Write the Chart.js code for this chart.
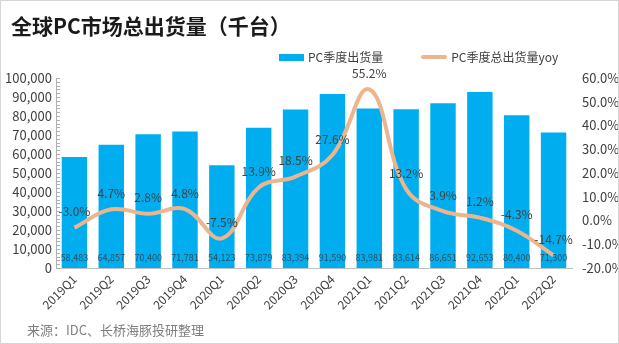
<!DOCTYPE html>
<html>
<head>
<meta charset="utf-8">
<script src="https://cdn.jsdelivr.net/npm/chart.js@4/dist/chart.umd.min.js"></script>
<style>
  html, body { margin: 0; padding: 0; background: #fff; }
  #wrap { position: relative; width: 619px; height: 344px; overflow: hidden; font-family: "Noto Sans CJK SC", "Noto Sans", sans-serif; }
  #c { position: absolute; left: 0; top: 0; }
  #frame { position: absolute; left: 0; top: 0; width: 619px; height: 344px; box-sizing: border-box; border: 1px solid #d6d6d6; pointer-events: none; }
  #title { position: absolute; left: 11px; top: 10px; font-size: 21px; font-weight: bold; color: #1a1a1a; white-space: nowrap; line-height: 30px; }
  #legend { position: absolute; left: 279px; top: 48px; font-size: 12px; color: #404040; white-space: nowrap; line-height: 18px; display: flex; align-items: center; }
  .sw-bar { display: inline-block; width: 25px; height: 7px; background: #00AEEF; margin-right: 4px; }
  .sw-line { display: inline-block; width: 26px; height: 4px; background: #EDB58E; margin-right: 4px; margin-left: 38px; border-radius: 2px; }
  #source { position: absolute; left: 27px; top: 320px; font-size: 13px; color: #7f7f7f; white-space: nowrap; line-height: 20px; }
</style>
</head>
<body>
<div id="wrap">
  <canvas id="c" width="619" height="344"></canvas>
  <div id="title">全球PC市场总出货量（千台）</div>
  <div id="legend"><span class="sw-bar"></span><span>PC季度出货量</span><span class="sw-line"></span><span>PC季度总出货量yoy</span></div>
  <div id="source">来源：IDC、长桥海豚投研整理</div>
  <div id="frame"></div>
</div>
<script>
const categories = ["2019Q1","2019Q2","2019Q3","2019Q4","2020Q1","2020Q2","2020Q3","2020Q4","2021Q1","2021Q2","2021Q3","2021Q4","2022Q1","2022Q2"];
const shipments = [58483, 64857, 70400, 71781, 54123, 73879, 83394, 91590, 83981, 83614, 86651, 92653, 80400, 71300];
const yoyPct = [-3.0, 4.7, 2.8, 4.8, -7.5, 13.9, 18.5, 27.6, 55.2, 13.2, 3.9, 1.2, -4.3, -14.7];

const FONT = '"Noto Sans CJK SC", "Noto Sans", sans-serif';

const minorTicks = {
  id: 'minorTicks',
  afterDraw(chart) {
    const s = chart.scales.y;
    const ctx = chart.ctx;
    ctx.save();
    ctx.strokeStyle = '#b0b0b0';
    ctx.lineWidth = 1;
    for (let v = s.min; v <= s.max; v += 2000) {
      const y = Math.round(s.getPixelForValue(v)) + 0.5;
      ctx.beginPath();
      ctx.moveTo(s.right, y);
      ctx.lineTo(s.right + 4, y);
      ctx.stroke();
    }
    ctx.restore();
  }
};

const dataLabels = {
  id: 'dataLabels',
  afterDatasetsDraw(chart) {
    const ctx = chart.ctx;
    ctx.save();
    ctx.textAlign = 'center';
    ctx.textBaseline = 'middle';
    // bar labels
    const barMeta = chart.getDatasetMeta(1);
    const y0 = chart.scales.y.getPixelForValue(0);
    ctx.font = '9px ' + FONT;
    ctx.fillStyle = 'rgba(50,60,70,0.85)';
    barMeta.data.forEach((el, i) => {
      ctx.fillText(shipments[i].toLocaleString('en-US'), el.x, y0 - 10);
    });
    // line labels
    const lineMeta = chart.getDatasetMeta(0);
    ctx.font = '12px ' + FONT;
    ctx.fillStyle = '#404040';
    lineMeta.data.forEach((el, i) => {
      ctx.fillText(yoyPct[i].toFixed(1) + '%', el.x, el.y - 16);
    });
    ctx.restore();
  }
};

new Chart(document.getElementById('c'), {
  data: {
    labels: categories,
    datasets: [
      {
        type: 'line',
        label: 'PC季度总出货量yoy',
        data: yoyPct,
        yAxisID: 'y1',
        borderColor: '#EDB58E',
        borderWidth: 4,
        pointRadius: 0,
        tension: 0.4,
        fill: false,
        order: 0
      },
      {
        type: 'bar',
        label: 'PC季度出货量',
        data: shipments,
        yAxisID: 'y',
        backgroundColor: '#00AEEF',
        barPercentage: 0.69,
        categoryPercentage: 1.0,
        order: 1
      }
    ]
  },
  options: {
    responsive: false,
    animation: false,
    layout: { padding: { top: 78, left: 0, right: 0, bottom: 0 } },
    plugins: {
      legend: { display: false },
      tooltip: { enabled: false },
      title: { display: false }
    },
    scales: {
      x: {
        grid: { display: false, drawTicks: false },
        border: { display: true, color: '#bfbfbf', width: 1 },
        ticks: {
          minRotation: 45, maxRotation: 45, autoSkip: false,
          font: { size: 12, family: FONT }, color: '#404040', padding: 4
        },
        afterFit(s) { s.height = 76; }
      },
      y: {
        position: 'left',
        min: 0, max: 100000,
        grid: { display: false, drawTicks: false },
        border: { display: true, color: '#b0b0b0', width: 1 },
        ticks: {
          stepSize: 10000,
          font: { size: 13, family: FONT }, color: '#404040', padding: 4,
          callback: v => v.toLocaleString('en-US')
        },
        afterFit(s) { s.width = 56; }
      },
      y1: {
        position: 'right',
        min: -20, max: 60,
        grid: { display: false, drawTicks: false },
        border: { display: false },
        ticks: {
          stepSize: 10,
          font: { size: 13, family: FONT }, color: '#404040', padding: 10,
          callback: v => v.toFixed(1) + '%'
        },
        afterFit(s) { s.width = 47; }
      }
    }
  },
  plugins: [minorTicks, dataLabels]
});
</script>
</body>
</html>
